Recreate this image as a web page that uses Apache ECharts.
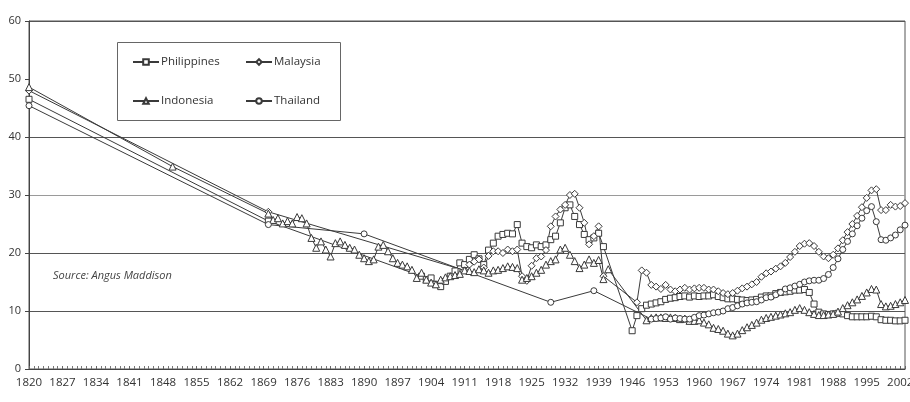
<!DOCTYPE html>
<html><head><meta charset="utf-8">
<script src="https://cdn.jsdelivr.net/npm/echarts@6/dist/echarts.min.js"></script>
<style>html,body{margin:0;padding:0;background:#fff}#c{width:910px;height:402px}</style>
</head><body><div id="c"></div>
<script>
// Years on the x axis and y ticks
const xMin = 1820, xMax = 2003, xStep = 7;
const yMin = 0, yMax = 60, yStep = 10;
const seriesNames = ['Philippines', 'Malaysia', 'Indonesia', 'Thailand'];

// [year, value] pairs
const philippines = [[1820,46.5],[1870,25.5],[1902,16.0],[1903,15.4],[1904,15.7],[1905,14.6],[1906,14.2],[1907,15.1],[1908,16.0],[1909,16.9],[1910,18.3],[1911,18.0],[1912,18.9],[1913,19.7],[1914,19.0],[1915,18.0],[1916,20.5],[1917,21.7],[1918,22.9],[1919,23.2],[1920,23.4],[1921,23.3],[1922,24.9],[1923,21.7],[1924,21.1],[1925,20.9],[1926,21.4],[1927,21.1],[1928,21.4],[1929,22.3],[1930,22.9],[1931,25.2],[1932,27.8],[1933,28.3],[1934,26.3],[1935,24.9],[1936,23.2],[1937,22.3],[1938,22.6],[1939,23.4],[1940,21.1],[1946,6.6],[1947,9.2],[1948,10.4],[1949,11.0],[1950,11.2],[1951,11.4],[1952,11.6],[1953,12.0],[1954,12.2],[1955,12.3],[1956,12.5],[1957,12.6],[1958,12.4],[1959,12.6],[1960,12.5],[1961,12.6],[1962,12.6],[1963,12.8],[1964,12.5],[1965,12.3],[1966,12.1],[1967,12.1],[1968,12.0],[1969,11.9],[1970,11.8],[1971,11.9],[1972,12.0],[1973,12.4],[1974,12.6],[1975,12.6],[1976,13.0],[1977,13.2],[1978,13.3],[1979,13.4],[1980,13.6],[1981,13.6],[1982,13.7],[1983,13.2],[1984,11.2],[1985,9.8],[1986,9.5],[1987,9.4],[1988,9.5],[1989,9.6],[1990,9.5],[1991,9.2],[1992,9.0],[1993,9.0],[1994,9.0],[1995,9.0],[1996,9.1],[1997,9.0],[1998,8.5],[1999,8.4],[2000,8.4],[2001,8.3],[2002,8.3],[2003,8.4]];

const malaysia = [[1820,48.0],[1870,27.1],[1911,17.0],[1912,18.0],[1913,18.5],[1914,18.9],[1915,17.5],[1916,19.5],[1917,20.3],[1918,20.3],[1919,20.0],[1920,20.6],[1921,20.3],[1922,20.6],[1923,16.0],[1924,15.2],[1925,17.8],[1926,19.1],[1927,19.4],[1928,20.5],[1929,24.6],[1930,26.3],[1931,27.5],[1932,28.3],[1933,30.0],[1934,30.2],[1935,27.8],[1936,25.2],[1937,21.5],[1938,22.9],[1939,24.6],[1940,16.0],[1947,11.5],[1948,17.0],[1949,16.6],[1950,14.5],[1951,14.2],[1952,13.8],[1953,14.5],[1954,13.7],[1955,13.4],[1956,13.7],[1957,14.0],[1958,13.7],[1959,13.9],[1960,14.0],[1961,14.0],[1962,13.7],[1963,13.7],[1964,13.4],[1965,13.1],[1966,12.9],[1967,13.1],[1968,13.5],[1969,13.9],[1970,14.2],[1971,14.6],[1972,15.0],[1973,15.9],[1974,16.5],[1975,16.8],[1976,17.3],[1977,17.7],[1978,18.3],[1979,19.3],[1980,20.2],[1981,21.2],[1982,21.6],[1983,21.7],[1984,21.2],[1985,20.2],[1986,19.4],[1987,19.1],[1988,19.7],[1989,20.8],[1990,22.2],[1991,23.6],[1992,25.0],[1993,26.4],[1994,27.9],[1995,29.5],[1996,30.8],[1997,31.0],[1998,27.4],[1999,27.4],[2000,28.3],[2001,28.0],[2002,28.1],[2003,28.6]];

const indonesia = [[1820,48.6],[1850,34.9],[1870,26.8],[1871,25.7],[1872,26.0],[1873,25.1],[1874,25.5],[1875,25.1],[1876,26.2],[1877,26.0],[1878,25.1],[1879,22.6],[1880,20.9],[1881,22.0],[1882,20.6],[1883,19.4],[1884,21.7],[1885,22.0],[1886,21.4],[1887,20.9],[1888,20.6],[1889,19.7],[1890,19.1],[1891,18.6],[1892,18.9],[1893,21.1],[1894,21.4],[1895,20.3],[1896,19.1],[1897,18.3],[1898,18.0],[1899,17.7],[1900,17.1],[1901,15.7],[1902,16.6],[1903,15.4],[1904,14.9],[1905,14.6],[1906,15.4],[1907,15.8],[1908,16.0],[1909,16.2],[1910,16.4],[1911,17.0],[1912,16.9],[1913,16.7],[1914,17.2],[1915,17.0],[1916,16.6],[1917,17.0],[1918,17.1],[1919,17.4],[1920,17.7],[1921,17.6],[1922,17.4],[1923,15.4],[1924,15.7],[1925,16.0],[1926,16.6],[1927,17.1],[1928,18.0],[1929,18.6],[1930,18.9],[1931,20.6],[1932,20.9],[1933,19.7],[1934,18.6],[1935,17.4],[1936,18.0],[1937,18.9],[1938,18.3],[1939,18.8],[1940,15.5],[1941,17.2],[1949,8.4],[1950,8.8],[1951,8.9],[1952,8.9],[1953,8.8],[1954,8.9],[1955,8.8],[1956,8.6],[1957,8.7],[1958,8.3],[1959,8.3],[1960,8.4],[1961,8.0],[1962,7.7],[1963,7.1],[1964,6.9],[1965,6.6],[1966,6.1],[1967,5.8],[1968,6.1],[1969,6.7],[1970,7.2],[1971,7.6],[1972,8.0],[1973,8.5],[1974,8.8],[1975,9.0],[1976,9.2],[1977,9.4],[1978,9.6],[1979,9.8],[1980,10.2],[1981,10.5],[1982,10.2],[1983,9.8],[1984,9.5],[1985,9.3],[1986,9.3],[1987,9.4],[1988,9.5],[1989,9.9],[1990,10.5],[1991,11.0],[1992,11.5],[1993,12.0],[1994,12.6],[1995,13.2],[1996,13.8],[1997,13.7],[1998,11.2],[1999,10.8],[2000,10.9],[2001,11.2],[2002,11.5],[2003,11.9]];

const thailand = [[1820,45.4],[1870,24.9],[1890,23.3],[1929,11.5],[1938,13.5],[1950,8.6],[1951,8.7],[1952,8.8],[1953,9.0],[1954,8.6],[1955,8.8],[1956,8.7],[1957,8.6],[1958,8.6],[1959,8.9],[1960,9.2],[1961,9.3],[1962,9.5],[1963,9.7],[1964,9.8],[1965,10.0],[1966,10.4],[1967,10.6],[1968,10.9],[1969,11.2],[1970,11.4],[1971,11.5],[1972,11.6],[1973,11.9],[1974,12.3],[1975,12.4],[1976,12.8],[1977,13.2],[1978,13.8],[1979,14.0],[1980,14.3],[1981,14.6],[1982,15.0],[1983,15.2],[1984,15.3],[1985,15.3],[1986,15.6],[1987,16.3],[1988,17.5],[1989,19.0],[1990,20.6],[1991,22.0],[1992,23.3],[1993,24.7],[1994,26.0],[1995,27.3],[1996,28.0],[1997,25.4],[1998,22.3],[1999,22.2],[2000,22.6],[2001,23.1],[2002,24.0],[2003,24.8]];

const FONT = "'Open Sans', 'DejaVu Sans', sans-serif";
const INK = '#3a3a3a';

function mk(name, data, symbol, size) {
  return {
    name: name, type: 'line', data: data, symbol: symbol, symbolSize: size,
    showSymbol: true, showAllSymbol: true, animation: false,
    lineStyle: { color: INK, width: 1 },
    itemStyle: { color: '#fff', borderColor: INK, borderWidth: 1 },
    emphasis: { disabled: true }
  };
}

function lg(name, left, top) {
  return {
    data: [name], left: left, top: top, padding: 0, itemWidth: 26, itemHeight: 7,
    itemGap: 0, selectedMode: false,
    textStyle: { fontFamily: FONT, fontSize: 11.5, color: '#333', padding: [0, 0, 0, -3] }
  };
}

const chart = echarts.init(document.getElementById('c'));
chart.setOption({
  backgroundColor: '#fff',
  animation: false,
  grid: { left: 29, right: 5, top: 21, bottom: 33, show: true, borderColor: '#555', borderWidth: 1, outerBoundsMode: 'none', containLabel: false },
  xAxis: {
    type: 'value', min: xMin, max: xMax, interval: xStep,
    axisLine: { show: true, lineStyle: { color: '#444', width: 1 } },
    axisTick: { show: true, inside: true, length: 3, lineStyle: { color: '#666' } },
    minorTick: { show: true, splitNumber: 7, length: 3, lineStyle: { color: '#777' } },
    splitLine: { show: false },
    axisLabel: {
      fontFamily: FONT, fontSize: 11.5, color: '#333', margin: 8, hideOverlap: false,
      formatter: function (v) { return ((v - xMin) % xStep === 0) ? String(v) : ''; }
    }
  },
  yAxis: {
    type: 'value', min: yMin, max: yMax, interval: yStep,
    axisLine: { show: true, lineStyle: { color: '#444', width: 1 } },
    axisTick: { show: true, length: 4, lineStyle: { color: '#444' } },
    axisLabel: { fontFamily: FONT, fontSize: 11, color: '#333', margin: 8 },
    splitLine: { show: true, lineStyle: { width: 1, color: ['#444', '#555', '#555', '#9a9a9a', '#555', 'rgba(0,0,0,0)', '#555'] } }
  },
  legend: [lg('Philippines', 132, 56), lg('Malaysia', 245, 56), lg('Indonesia', 132, 95), lg('Thailand', 245, 95)],
  graphic: [
    { type: 'rect', shape: { x: 117.5, y: 42.5, width: 223, height: 78 }, style: { fill: 'rgba(0,0,0,0)', stroke: '#666', lineWidth: 1 }, z: 10 },
    { type: 'text', left: 53, top: 270, style: { text: 'Source: Angus Maddison', font: "italic 11px 'Open Sans', sans-serif", fill: '#444' }, z: 10 }
  ],
  series: [
    mk(seriesNames[0], philippines, 'rect', 6),
    mk(seriesNames[1], malaysia, 'diamond', 7),
    mk(seriesNames[2], indonesia, 'triangle', 7),
    mk(seriesNames[3], thailand, 'circle', 6)
  ]
});
</script>
</body></html>
